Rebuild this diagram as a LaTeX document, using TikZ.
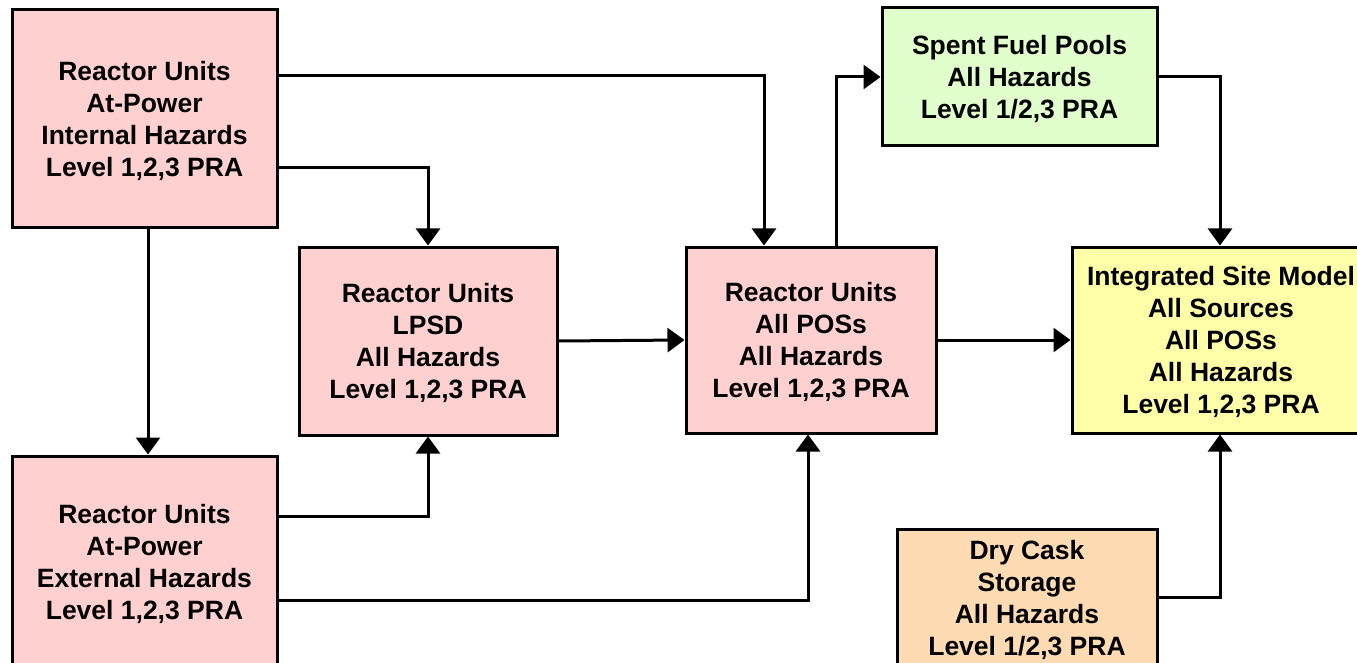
\documentclass[tikz,border=0pt]{standalone}
\usepackage{fontspec}
\setmainfont{Liberation Sans}
\usetikzlibrary{arrows.meta}
\definecolor{pinkfill}{HTML}{FFD0D0}
\definecolor{greenfill}{HTML}{E0FFCC}
\definecolor{yellowfill}{HTML}{FFFFAA}
\definecolor{peachfill}{HTML}{FFDBB4}
\tikzset{
  box/.style={draw=black, line width=3pt, rectangle, align=center, inner sep=0pt,
    text depth=0pt, font=\fontsize{26.5}{32}\selectfont\bfseries},
  conn/.style={line width=3pt, -{Triangle[length=17pt,width=24pt]}},
}
\begin{document}
\begin{tikzpicture}[x=1pt,y=-1pt]
\clip (0,0) rectangle (1357,663);
\fill[white] (0,0) rectangle (1357,663);
\node[box, fill=pinkfill, minimum width=265pt, minimum height=218pt] (A) at (144.5,119)
  {Reactor Units\\At-Power\\Internal Hazards\\Level 1,2,3 PRA};
\node[box, fill=pinkfill, minimum width=265pt, minimum height=212pt] (B) at (144.5,562)
  {Reactor Units\\At-Power\\External Hazards\\Level 1,2,3 PRA};
\node[box, fill=pinkfill, minimum width=258pt, minimum height=188pt] (C) at (428,341)
  {Reactor Units\\LPSD\\All Hazards\\Level 1,2,3 PRA};
\node[box, fill=pinkfill, minimum width=250pt, minimum height=186pt] (D) at (811,340)
  {Reactor Units\\All POSs\\All Hazards\\Level 1,2,3 PRA};
\node[box, fill=yellowfill, minimum width=298pt, minimum height=186pt] (E) at (1221,340)
  {Integrated Site Model\\All Sources\\All POSs\\All Hazards\\Level 1,2,3 PRA};
\node[box, fill=greenfill, minimum width=275pt, minimum height=138pt] (F) at (1019.5,77)
  {Spent Fuel Pools\\All Hazards\\Level 1/2,3 PRA};
\node[box, fill=peachfill, minimum width=260pt, minimum height=137pt] (G) at (1027,597.5)
  {Dry Cask\\Storage\\All Hazards\\Level 1/2,3 PRA};
\draw[conn] ([yshift=43pt]A.east) -| ([xshift=-47pt]D.north);
\draw[conn] ([yshift=-49pt]A.east) -| (C.north);
\draw[conn] ([xshift=3.5pt]A.south) -- ([xshift=3.5pt]B.north);
\draw[conn] ([yshift=46pt]B.east) -| (C.south);
\draw[conn] ([yshift=-38pt]B.east) -| ([xshift=-3pt]D.south);
\draw[conn] (C.east) -- (D.west);
\draw[conn] ([xshift=25pt]D.north) |- (F.west);
\draw[conn] (D.east) -- (E.west);
\draw[conn] (F.east) -| ([xshift=-1pt]E.north);
\draw[conn] (G.east) -| ([xshift=-1pt]E.south);
\end{tikzpicture}
\end{document}
